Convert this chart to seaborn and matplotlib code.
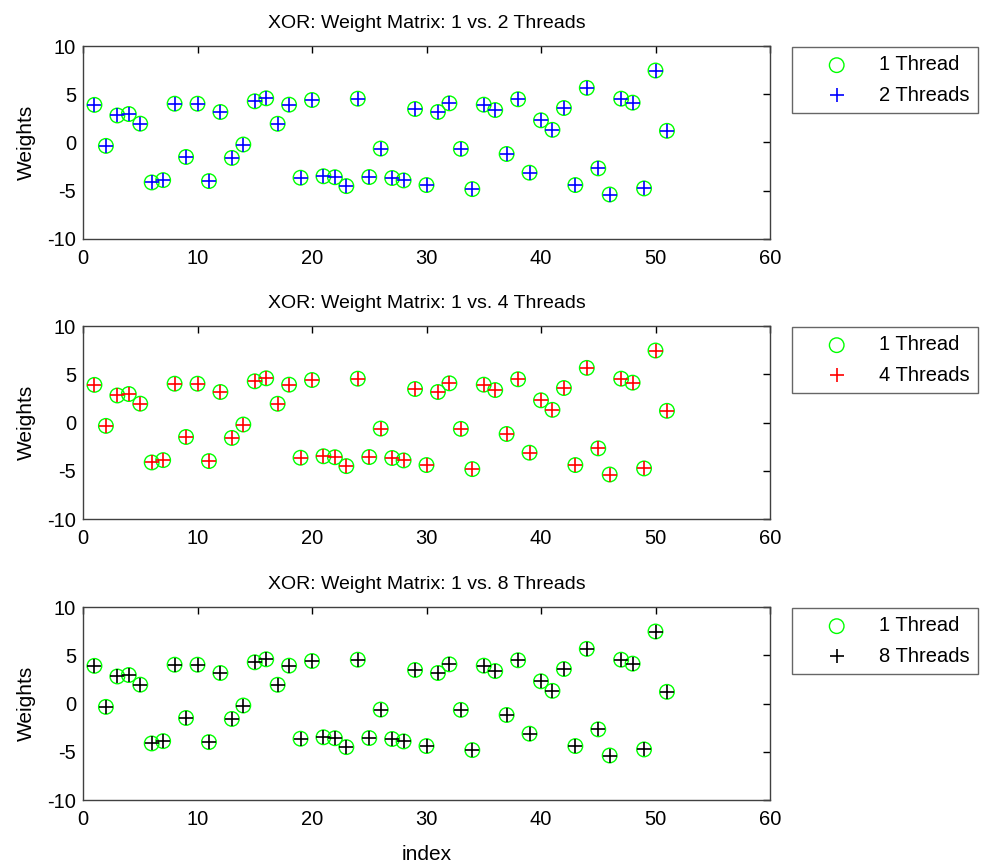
import numpy as np
import pandas as pd
import matplotlib
matplotlib.use("Agg")
import matplotlib.pyplot as plt
import seaborn as sns

index = list(range(1, 52))
w_1thread = [3.9, -0.35, 2.8, 2.95, 1.95, -4.14, -3.9, 4.02, -1.5, 4.02,
             -4.0, 3.16, -1.6, -0.21, 4.27, 4.58, 1.94, 3.92, -3.65, 4.4,
             -3.5, -3.6, -4.52, 4.54, -3.58, -0.63, -3.68, -3.93, 3.47, -4.41,
             3.16, 4.06, -0.66, -4.83, 3.92, 3.36, -1.19, 4.48, -3.13, 2.3,
             1.31, 3.57, -4.41, 5.66, -2.68, -5.39, 4.54, 4.13, -4.76, 7.46,
             1.21]
w_2threads = list(w_1thread)
w_4threads = list(w_1thread)
w_8threads = list(w_1thread)

titles = ["XOR: Weight Matrix: 1 vs. 2 Threads",
          "XOR: Weight Matrix: 1 vs. 4 Threads",
          "XOR: Weight Matrix: 1 vs. 8 Threads"]
other_labels = ["2 Threads", "4 Threads", "8 Threads"]
other_series = [w_2threads, w_4threads, w_8threads]
other_colors = ["#0000FF", "#FF0000", "#000000"]
xticks = [0, 10, 20, 30, 40, 50, 60]
yticks = [-10, -5, 0, 5, 10]

sns.set_style("white")
plt.rcParams['font.family'] = ['Liberation Sans', 'DejaVu Sans']
plt.rcParams['axes.unicode_minus'] = False
plt.rcParams['text.color'] = 'black'
plt.rcParams['axes.labelcolor'] = 'black'

W, H = 985, 863
fig = plt.figure(figsize=(W / 100, H / 100), dpi=100)

tops = [46, 326, 607]
ax_h = 193
left, right = 83, 770
green = "#00FF00"

for i in range(3):
    top = tops[i]
    ax = fig.add_axes([left / W, 1 - (top + ax_h) / H, (right - left) / W, ax_h / H])
    df = pd.DataFrame({"index": index, "one": w_1thread, "other": other_series[i]})
    sns.scatterplot(data=df, x="index", y="one", ax=ax, marker="o", s=110,
                    facecolors="none", edgecolor=green, linewidth=1.0,
                    label="1 Thread", zorder=2)
    sns.scatterplot(data=df, x="index", y="other", ax=ax, marker="+", s=110,
                    color=other_colors[i], linewidth=1.2,
                    label=other_labels[i], zorder=3)
    ax.set_xlim(0, 60)
    ax.set_ylim(-10, 10)
    ax.set_xticks(xticks)
    ax.set_yticks(yticks)
    ax.tick_params(direction="in", top=True, right=True, length=5, width=1,
                   labelsize=14.5, colors="#000000")
    ax.tick_params(axis="x", pad=7)
    ax.tick_params(axis="y", pad=5)
    for sp in ax.spines.values():
        sp.set_color("#404040")
        sp.set_linewidth(1.0)
    ax.set_title(titles[i], fontsize=14, pad=13, color="black")
    ax.set_ylabel("Weights", fontsize=15, labelpad=8)
    if i == 2:
        ax.set_xlabel("index", fontsize=15, labelpad=12)
    else:
        ax.set_xlabel("")
    leg = ax.legend(loc="upper left", bbox_to_anchor=(792 / W, 1 - (top + 1) / H),
                    bbox_transform=fig.transFigure, fontsize=14.5, frameon=True,
                    fancybox=False, borderpad=0.42, handletextpad=0.3,
                    labelspacing=0.55, handlelength=3.6, borderaxespad=0)
    leg.get_frame().set_edgecolor("#404040")
    leg.get_frame().set_linewidth(1.0)
    for t in leg.get_texts():
        t.set_color("black")

fig.savefig("out.png", dpi=100)
